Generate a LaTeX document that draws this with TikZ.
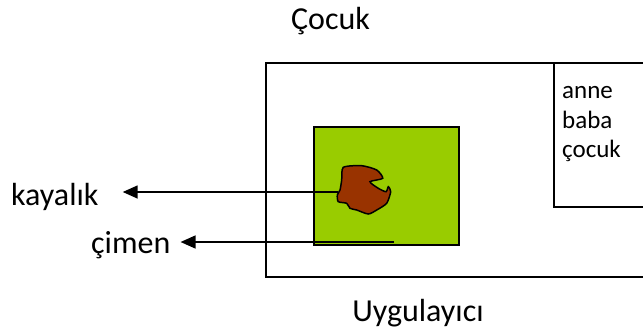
\documentclass[tikz,border=0pt]{standalone}
\usepackage{fontspec}
\setmainfont{Carlito}
\usetikzlibrary{arrows.meta}
\definecolor{grass}{HTML}{99CC00}
\definecolor{rock}{HTML}{993300}
\begin{document}
\begin{tikzpicture}[x=1pt,y=-1pt,>={Triangle[length=15pt,width=13pt]}]
  \tikzset{lbl/.style={font=\fontsize{32}{38}\selectfont, inner sep=0pt},
           item/.style={font=\fontsize{25}{30}\selectfont, inner sep=0pt, anchor=base west},
           frame/.style={draw, line width=1.3pt}}
  \useasboundingbox (0,0) rectangle (643,333);
  % outer frame, runs off to the right
  \draw[frame] (643,63) -- (266,63) -- (266,277) -- (643,277);
  % list box in the corner
  \draw[frame] (554,63) -- (554,207) -- (643,207);
  \node[item] (anne) at (562,98) {anne};
  \node[item] (baba) at (562,128) {baba};
  \node[item] (cocuk) at (562,157) {çocuk};
  % grass patch with the rock on it
  \draw[frame, fill=grass] (314,127) rectangle (459,245);
  \draw[line width=1.5pt, fill=rock] plot[smooth cycle, tension=0.4] coordinates {
    (343.3,167.3) (361.7,165.7) (376.7,170) (382.7,178.3) (370,181.7)
    (378.3,188.3) (386,191.7) (388.3,186.7) (390.7,191.7) (386.7,203.3)
    (376.7,210) (368.3,214) (356.7,210) (350,208.3) (346.7,203.3)
    (338.3,201.7) (337.3,195) (340,190) (341.7,180)};
  \coordinate (rockedge) at (338,192);
  \coordinate (grassin) at (394,242);
  % titles
  \node[lbl, anchor=base] (title) at (330.5,29) {Çocuk};
  \node[lbl, anchor=base] (actor) at (418,321) {Uygulayıcı};
  % pointers
  \node[lbl, anchor=base west] (kaya) at (11,205) {kayalık};
  \node[lbl, anchor=base west] (cimen) at (91,253) {çimen};
  \draw[->, line width=1.5pt] (rockedge) -- ([xshift=24pt]rockedge -| kaya.east);
  \draw[->, line width=1.5pt] (grassin) -- ([xshift=10pt]grassin -| cimen.east);
\end{tikzpicture}
\end{document}
